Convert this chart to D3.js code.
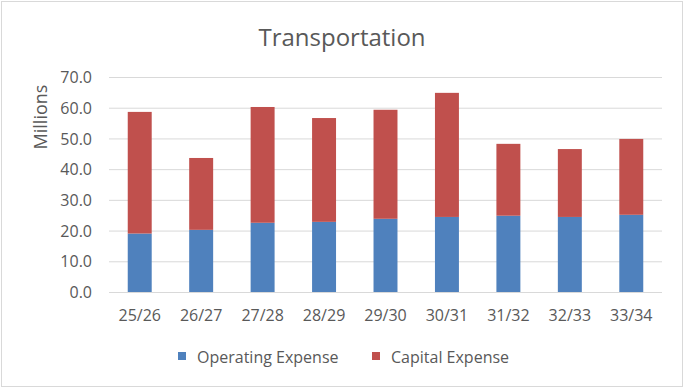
<!DOCTYPE html>
<html>
<head>
<meta charset="utf-8">
<script src="https://cdn.jsdelivr.net/npm/d3@7"></script>
<style>
  body { margin: 0; background: #fff; }
  text { font-family: "Open Sans", sans-serif; fill: #595959; }
</style>
</head>
<body>
<div id="chart"></div>
<script>
// Chart values (millions)
const years = ["25/26", "26/27", "27/28", "28/29", "29/30", "30/31", "31/32", "32/33", "33/34"];
const operating = [19.2, 20.4, 22.7, 23.0, 24.0, 24.6, 25.0, 24.6, 25.3];
const capital = [39.6, 23.4, 37.7, 33.8, 35.5, 40.4, 23.4, 22.1, 24.7];
const yTicks = [0, 10, 20, 30, 40, 50, 60, 70];
const seriesNames = ["Operating Expense", "Capital Expense"];
const colors = ["#4F81BD", "#C0504D"];

const W = 685, H = 389;
const margin = { top: 77.5, right: 23, bottom: 96.5, left: 109 };
const width = W - margin.left - margin.right,
    height = H - margin.top - margin.bottom;

const svg = d3.select("#chart")
    .append("svg")
    .attr("width", W)
    .attr("height", H);

// chart border
svg.append("rect")
    .attr("x", 1.5).attr("y", 1.5)
    .attr("width", W - 4).attr("height", H - 4)
    .attr("fill", "#fff")
    .attr("stroke", "#D9D9D9");

const g = svg.append("g").attr("transform", `translate(${margin.left},${margin.top})`);

const x = d3.scaleBand().domain(years).range([0, width]).paddingInner(0.61).paddingOuter(0.305);
const y = d3.scaleLinear().domain([0, 70]).range([height, 0]);

// gridlines
g.selectAll(".grid")
    .data(yTicks)
    .enter()
    .append("line")
    .attr("x1", 0).attr("x2", width)
    .attr("y1", d => y(d)).attr("y2", d => y(d))
    .attr("stroke", "#D9D9D9")
    .attr("stroke-width", 1);

// stacked bars
const rows = years.map((yr, i) => ({ year: yr, op: operating[i], cap: capital[i] }));
const stack = d3.stack().keys(["op", "cap"])(rows);

g.selectAll(".series")
    .data(stack)
    .enter()
    .append("g")
    .attr("fill", (d, i) => colors[i])
    .selectAll("rect")
    .data(d => d)
    .enter()
    .append("rect")
    .attr("x", d => x(d.data.year))
    .attr("width", x.bandwidth())
    .attr("y", d => y(d[1]))
    .attr("height", d => y(d[0]) - y(d[1]));

// y axis
const yAxis = g.append("g")
    .call(d3.axisLeft(y).tickValues(yTicks).tickFormat(d3.format(".1f")).tickSize(0).tickPadding(17));
yAxis.select(".domain").remove();
yAxis.selectAll("text").style("font-size", "16px").attr("fill", "#595959");

// x axis
const xAxis = g.append("g")
    .attr("transform", `translate(0,${height})`)
    .call(d3.axisBottom(x).tickSize(0).tickPadding(17));
xAxis.select(".domain").remove();
xAxis.selectAll("text").style("font-size", "16px").attr("fill", "#595959");

// baseline
g.append("line")
    .attr("x1", 0).attr("x2", width)
    .attr("y1", y(0)).attr("y2", y(0))
    .attr("stroke", "#D9D9D9")
    .attr("stroke-width", 1);

// title
svg.append("text")
    .attr("x", 342)
    .attr("y", 46)
    .attr("text-anchor", "middle")
    .style("font-size", "24px")
    .text("Transportation");

// y axis label
svg.append("text")
    .attr("transform", "rotate(-90)")
    .attr("x", -117)
    .attr("y", 47)
    .attr("text-anchor", "middle")
    .style("font-size", "18px")
    .text("Millions");

// legend
const legendX = [178, 372];
const legend = svg.selectAll(".legend")
    .data(seriesNames)
    .enter()
    .append("g")
    .attr("transform", (d, i) => `translate(${legendX[i]},352)`);

legend.append("rect").attr("width", 8).attr("height", 8).attr("fill", (d, i) => colors[i]);
legend.append("text").attr("x", 19).attr("y", 11).style("font-size", "16px").text(d => d);
</script>
</body>
</html>
